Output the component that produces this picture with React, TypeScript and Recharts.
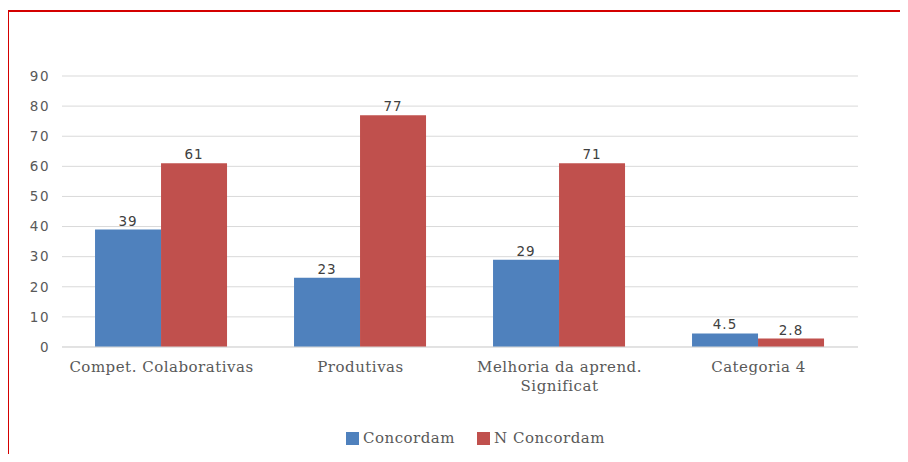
import { BarChart, Bar, XAxis, YAxis, CartesianGrid, LabelList } from "recharts";

const categories = [
  "Compet. Colaborativas",
  "Produtivas",
  "Melhoria da aprend. Significat",
  "Categoria 4",
];
const concordam = [39, 23, 29, 4.5];
const nConcordam = [61, 77, 61, 2.8];
// labels as printed on the original (third red bar reads 71)
const concordamLabels = ["39", "23", "29", "4.5"];
const nConcordamLabels = ["61", "77", "71", "2.8"];
const yTicks = [0, 10, 20, 30, 40, 50, 60, 70, 80, 90];

const BLUE = "#4f81bd";
const RED = "#c0504d";
const TEXT = "#595959";
const GRID = "#d9d9d9";

const data = categories.map((name, i) => ({
  name,
  concordam: concordam[i],
  nConcordam: nConcordam[i],
  cLabel: concordamLabels[i],
  nLabel: nConcordamLabels[i],
}));

function wrap(text: string, max: number) {
  const words = text.split(" ");
  const lines: string[] = [];
  let cur = "";
  for (const w of words) {
    const next = cur ? cur + " " + w : w;
    if (next.length > max && cur) {
      lines.push(cur);
      cur = w;
    } else {
      cur = next;
    }
  }
  if (cur) lines.push(cur);
  return lines;
}

function CategoryTick(props: any) {
  const { x, y, payload } = props;
  const lines = wrap(String(payload.value), 22);
  return (
    <text
      x={x}
      y={y}
      textAnchor="middle"
      fill={TEXT}
      fontFamily="'DejaVu Serif', serif"
      fontSize={15}
      letterSpacing={0.5}
    >
      {lines.map((l, i) => (
        <tspan key={i} x={x} dy={i === 0 ? 17 : 19}>
          {l}
        </tspan>
      ))}
    </text>
  );
}

const labelStyle = {
  fill: "#404040",
  fontFamily: "'DejaVu Sans', sans-serif",
  fontSize: 13.5,
  letterSpacing: 1,
};

export default function App() {
  return (
    <div
      style={{
        position: "relative",
        width: 908,
        height: 462,
        margin: -8,
        overflow: "hidden",
        background: "#fff",
      }}
    >
      <div
        style={{
          position: "absolute",
          left: 7,
          top: 10,
          width: 940,
          height: 480,
          border: "2px solid #d40000",
          boxSizing: "border-box",
        }}
      />
      <div style={{ position: "absolute", left: 0, top: 0 }}>
        <BarChart
          width={908}
          height={462}
          data={data}
          margin={{ top: 76, right: 50, left: 0, bottom: 85 }}
          barCategoryGap="16.6%"
          barGap={0}
        >
          <CartesianGrid vertical={false} stroke={GRID} />
          <XAxis
            dataKey="name"
            axisLine={{ stroke: GRID }}
            tickLine={false}
            interval={0}
            tick={<CategoryTick />}
          />
          <YAxis
            width={62}
            domain={[0, 90]}
            ticks={yTicks}
            axisLine={false}
            tickLine={false}
            tickSize={0}
            tickMargin={12}
            tick={{
              fill: TEXT,
              fontFamily: "'DejaVu Sans', sans-serif",
              fontSize: 13.5,
              letterSpacing: 1.5,
            }}
          />
          <Bar dataKey="concordam" name="Concordam" fill={BLUE} isAnimationActive={false}>
            <LabelList dataKey="cLabel" position="top" offset={4} style={labelStyle} />
          </Bar>
          <Bar dataKey="nConcordam" name="N Concordam" fill={RED} isAnimationActive={false}>
            <LabelList dataKey="nLabel" position="top" offset={4} style={labelStyle} />
          </Bar>
        </BarChart>
      </div>
      <div
        style={{
          position: "absolute",
          top: 429,
          left: 0,
          width: 908,
          display: "flex",
          justifyContent: "center",
          paddingLeft: 43,
          boxSizing: "border-box",
          gap: 22,
          fontFamily: "'DejaVu Serif', serif",
          fontSize: 15,
          letterSpacing: 0.5,
          color: TEXT,
        }}
      >
        <div style={{ display: "flex", alignItems: "center", gap: 4 }}>
          <span style={{ width: 13, height: 13, background: BLUE, display: "inline-block" }} />
          <span>Concordam</span>
        </div>
        <div style={{ display: "flex", alignItems: "center", gap: 4 }}>
          <span style={{ width: 13, height: 13, background: RED, display: "inline-block" }} />
          <span>N Concordam</span>
        </div>
      </div>
    </div>
  );
}
